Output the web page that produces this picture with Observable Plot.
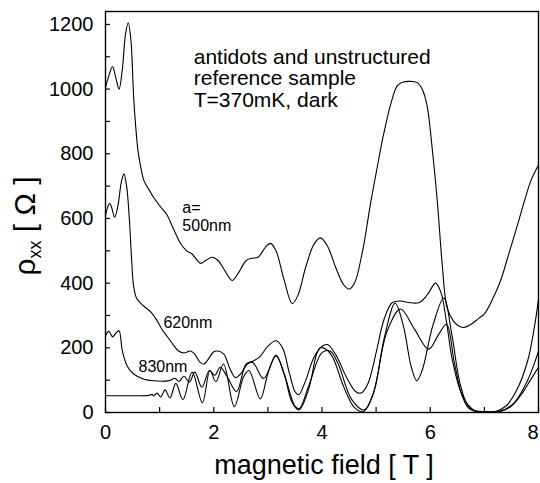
<!DOCTYPE html>
<html>
<head>
<meta charset="utf-8">
<script src="https://cdn.jsdelivr.net/npm/d3@7"></script>
<script src="https://cdn.jsdelivr.net/npm/@observablehq/plot@0.6"></script>
<style>
  html, body { margin: 0; padding: 0; background: white; }
  #chart svg { display: block; }
</style>
</head>
<body>
<div id="chart"></div>
<script>
// magnetic field [T] and rho_xx [Ohm] for each sample
const field500 = [0.0,0.06,0.13,0.19,0.25,0.31,0.37,0.42,0.47,0.52,0.56,0.6,0.65,0.71,0.8,0.89,1.0,1.14,1.25,1.39,1.5,1.6,1.7,1.76,1.85,1.97,2.08,2.2,2.34,2.45,2.6,2.7,2.82,2.95,3.05,3.15,3.3,3.45,3.55,3.7,3.85,3.97,4.1,4.25,4.4,4.5,4.6,4.75,4.9,5.0,5.14,5.28,5.39,5.5,5.62,5.76,5.85,5.94,6.04,6.13,6.22,6.31,6.42,6.52,6.62,6.75,6.9,7.0,7.15,7.3,7.45,7.6,7.75,7.86,8.0];
const rho500   = [1005,1040,1070,1035,1000,1060,1170,1205,1150,975,880,810,760,717,690,665,640,610,570,522,500,490,470,461,470,480,470,440,408,430,470,477,480,510,523,500,410,337,360,450,520,540,515,450,395,382,400,500,650,740,862,960,1010,1022,1024,1020,1000,950,810,655,460,325,285,268,263,272,292,305,350,408,490,573,660,717,765];

const field620 = [0.0,0.04,0.08,0.12,0.17,0.23,0.29,0.34,0.39,0.44,0.48,0.52,0.57,0.62,0.7,0.83,0.95,1.05,1.14,1.25,1.35,1.45,1.57,1.65,1.75,1.82,1.9,2.0,2.08,2.19,2.3,2.4,2.5,2.62,2.74,2.85,3.0,3.15,3.27,3.4,3.5,3.57,3.7,3.85,4.0,4.1,4.25,4.45,4.62,4.72,4.85,5.0,5.15,5.3,5.45,5.6,5.8,5.95,6.1,6.2,6.3,6.4,6.55,6.7,6.85,7.0,7.2,7.4,7.6,7.8,7.92,8.0];
const rho620   = [609,635,647,630,604,640,710,738,700,600,480,390,355,343,330,312,285,255,235,210,190,184,190,180,155,150,165,188,190,180,135,108,120,150,160,172,205,222,200,120,65,55,100,170,205,210,180,110,65,60,90,185,290,340,345,340,340,365,400,370,280,170,70,15,3,1,3,20,70,160,260,350];

const field830 = [0.0,0.06,0.13,0.19,0.25,0.31,0.4,0.52,0.71,0.9,1.1,1.2,1.28,1.36,1.45,1.55,1.65,1.78,1.92,2.02,2.12,2.25,2.42,2.6,2.72,2.92,3.15,3.3,3.5,3.58,3.75,4.0,4.15,4.3,4.55,4.78,4.95,5.2,5.45,5.7,5.97,6.15,6.3,6.45,6.6,6.8,7.0,7.3,7.55,7.8,8.0];
const rho830   = [237,251,234,245,253,191,144,119,103,98,97,100,106,96,112,94,125,78,130,115,140,110,65,150,155,105,175,120,20,12,80,185,190,150,40,8,60,250,320,260,196,240,273,150,50,8,3,5,30,100,190];

const fieldRef = [0.0,0.5,0.8,0.86,0.89,0.95,1.02,1.1,1.19,1.3,1.43,1.6,1.79,1.93,2.04,2.18,2.38,2.55,2.65,2.86,3.0,3.15,3.3,3.45,3.575,3.75,3.9,3.97,4.08,4.2,4.4,4.6,4.77,4.95,5.15,5.35,5.5,5.65,5.75,5.85,6.05,6.25,6.4,6.55,6.7,6.85,7.0,7.3,7.5,7.7,7.85,8.0];
const rhoRef   = [52,52,53,56,51,60,48,70,45,90,40,125,30,130,95,150,18,110,130,42,120,178,120,30,8,70,180,200,195,170,80,15,3,60,230,338,270,140,98,130,270,354,240,90,20,3,1,3,20,60,100,140];

const xTicksMinor = [0,1,2,3,4,5,6,7,8];
const xTickLabels = [0,2,4,6];
const xTickLast = [8];
const yTicksMinor = d3.range(0, 1201, 100);
const yTickLabels = [0,200,400,600,800,1000,1200];

const curveLabels = [
  {x: 1.42, y: 632, text: "a="},
  {x: 1.42, y: 576, text: "500nm"},
  {x: 1.07, y: 276, text: "620nm"},
  {x: 0.61, y: 140, text: "830nm"}
];
const noteLines = ["antidots and unstructured", "reference sample", "T=370mK, dark"];
const noteY = [1097, 1032, 967];

const series = [
  {name: "500nm", f: field500, r: rho500},
  {name: "620nm", f: field620, r: rho620},
  {name: "830nm", f: field830, r: rho830},
  {name: "reference", f: fieldRef, r: rhoRef}
];
const rows = series.flatMap(s => s.f.map((b, i) => ({sample: s.name, B: b, rho: s.r[i]})));
const notes = noteLines.map((t, i) => ({x: 1.63, y: noteY[i], text: t}));

const font = "'Liberation Sans', Arial, Helvetica, sans-serif";
const plain = d => String(d);

const chart = Plot.plot({
  width: 540,
  height: 483,
  marginLeft: 105,
  marginRight: 2,
  marginTop: 11,
  marginBottom: 71,
  style: {fontFamily: font, background: "white", color: "black"},
  x: {domain: [0, 8]},
  y: {domain: [0, 1240]},
  marks: [
    Plot.axisX({ticks: xTicksMinor, tickSize: 5, dy: -5, text: null, strokeWidth: 1.2}),
    Plot.axisX({ticks: xTickLabels, tickSize: 0, tickPadding: 12, fontSize: 20, tickFormat: plain, label: null}),
    Plot.axisX({ticks: xTickLast, tickSize: 0, tickPadding: 12, fontSize: 20, tickFormat: plain, textAnchor: "end", dx: 0, label: null}),
    Plot.axisY({ticks: yTicksMinor, tickSize: 5, dx: 5, text: null, strokeWidth: 1.2}),
    Plot.axisY({ticks: yTickLabels, tickSize: 0, tickPadding: 12, fontSize: 20, tickFormat: plain, label: null}),
    Plot.line(rows, {x: "B", y: "rho", z: "sample", stroke: "black", strokeWidth: 1.1, curve: "catmull-rom"}),
    Plot.text(curveLabels, {x: "x", y: "y", text: "text", textAnchor: "start", fontSize: 16, fill: "black"}),
    Plot.text(notes, {x: "x", y: "y", text: "text", textAnchor: "start", fontSize: 21, fill: "black"}),
    Plot.frame({stroke: "black", strokeWidth: 1.4})
  ]
});

document.getElementById("chart").appendChild(chart);

// axis titles (subscript needs tspans)
const svg = d3.select(chart);
svg.append("text")
  .attr("x", 324).attr("y", 474)
  .attr("text-anchor", "middle")
  .attr("font-family", font)
  .attr("font-size", 27)
  .attr("fill", "black")
  .text("magnetic field [ T ]");

const yl = svg.append("text")
  .attr("transform", "translate(35,226) rotate(-90)")
  .attr("text-anchor", "middle")
  .attr("font-family", font)
  .attr("font-size", 30)
  .attr("fill", "black");
yl.append("tspan").text("ρ");
yl.append("tspan").attr("font-size", 18).attr("dy", 6).text("xx");
yl.append("tspan").attr("dy", -6).text("\u00A0[\u00A0Ω\u00A0]");
</script>
</body>
</html>
